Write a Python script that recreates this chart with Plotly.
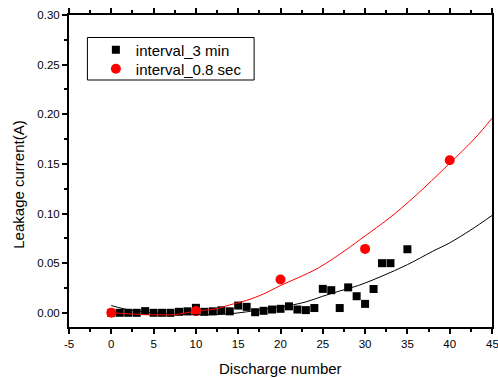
import plotly.graph_objects as go

# ---- data ----
sq_x = [0, 1, 2, 3, 4, 5, 6, 7, 8, 9, 10, 11, 12, 13, 14, 15, 16, 17, 18, 19, 20,
        21, 22, 23, 24, 25, 26, 27, 28, 29, 30, 31, 32, 33, 35]
sq_y = [0.0, 0.0, 0.0, 0.0, 0.0017, 0.0, 0.0, 0.0, 0.001, 0.0015, 0.005, 0.001,
        0.0015, 0.0025, 0.0015, 0.0073, 0.006, 0.0006, 0.002, 0.0033, 0.004,
        0.0065, 0.0033, 0.0027, 0.0048, 0.0241, 0.0228, 0.0048, 0.0256, 0.0167,
        0.009, 0.024, 0.050, 0.050, 0.064]

ci_x = [0, 10, 20, 30, 40]
ci_y = [0.0, 0.0017, 0.0335, 0.0644, 0.1537]

black_fit_x = [0, 1.5, 3, 5, 7.5, 10, 12.5, 14, 16, 18, 21, 23, 25, 27, 29.2,
               32, 35, 38, 40, 42.5, 45]
black_fit_y = [0.0073, 0.004, 0.0018, 0.0, -0.0015, -0.002, -0.0018, -0.001,
               0.001, 0.0035, 0.0073, 0.011, 0.0167, 0.022, 0.0275, 0.037, 0.0485,
               0.062, 0.0705, 0.0835, 0.098]

red_fit_x = [0, 2, 3.7, 5, 7.6, 10, 12.4, 14, 16, 18, 20, 22, 24.5, 27.7, 30,
             32.8, 35.9, 39.8, 43, 45]
red_fit_y = [0.0, -0.001, -0.0017, -0.002, -0.0017, 0.0017, 0.004, 0.008, 0.0125,
             0.019, 0.0275, 0.035, 0.0453, 0.0632, 0.0775, 0.095, 0.1175, 0.149,
             0.176, 0.196]

x_ticks = [-5, 0, 5, 10, 15, 20, 25, 30, 35, 40, 45]
x_tick_labels = ["-5", "0", "5", "10", "15", "20", "25", "30", "35", "40", ""]
edge_label = "45"  # drawn separately so it is clipped at the page edge like the reference

series_names = ["interval_3 min", "interval_0.8 sec"]
x_title = "Discharge number"
y_title = "Leakage current(A)"

X_RANGE = [-5, 45]
Y_RANGE = [-0.0143, 0.30]

FONT = "Liberation Sans, Arial, sans-serif"

fig = go.Figure()
fig.add_trace(go.Scatter(x=sq_x, y=sq_y, mode="markers", name=series_names[0],
                         legend="legend",
                         marker=dict(symbol="square", size=8, color="black")))
fig.add_trace(go.Scatter(x=ci_x, y=ci_y, mode="markers", name=series_names[1],
                         legend="legend2",
                         marker=dict(symbol="circle", size=10, color="#FF0000")))
fig.add_trace(go.Scatter(x=black_fit_x, y=black_fit_y, mode="lines", showlegend=False,
                         line=dict(color="black", width=1, shape="spline", smoothing=1)))
fig.add_trace(go.Scatter(x=red_fit_x, y=red_fit_y, mode="lines", showlegend=False,
                         line=dict(color="#FF0000", width=1, shape="spline", smoothing=1)))

leg_common = dict(xanchor="left", yanchor="middle", bgcolor="rgba(0,0,0,0)",
                  borderwidth=0, font=dict(size=15, family=FONT), itemsizing="trace")

fig.update_layout(
    width=498, height=378,
    margin=dict(l=69, r=4, t=15, b=51),
    paper_bgcolor="white", plot_bgcolor="white",
    font=dict(family=FONT, color="black"),
    legend=dict(x=(96 - 69) / 425, y=(327 - 50) / 312, **leg_common),
    legend2=dict(x=(96 - 69) / 425, y=(327 - 69) / 312, **leg_common),
    shapes=[dict(type="rect", xref="paper", yref="paper",
                 x0=(87.5 - 69) / 425, x1=(255 - 69) / 425,
                 y0=(327 - 80) / 312, y1=(327 - 37.5) / 312,
                 line=dict(color="black", width=1), fillcolor="rgba(0,0,0,0)")],
    annotations=[
        dict(text=x_title, xref="paper", yref="paper", x=(281 - 69) / 425,
             y=(327 - 368) / 312, xanchor="center", yanchor="middle",
             showarrow=False, font=dict(size=15, family=FONT)),
        dict(text=y_title, xref="paper", yref="paper", x=(18 - 69) / 425,
             y=(327 - 184.5) / 312, xanchor="center", yanchor="middle",
             textangle=-90, showarrow=False, font=dict(size=15, family=FONT)),
        dict(text=edge_label, xref="paper", yref="paper", x=1,
             y=(327 - 344) / 312, xanchor="center", yanchor="middle",
             showarrow=False, font=dict(size=11.5, family=FONT)),
    ],
)

fig.update_xaxes(range=X_RANGE, tickmode="array", tickvals=x_ticks,
                 ticktext=x_tick_labels, ticks="outside", ticklen=5,
                 tickwidth=2, tickcolor="black", showline=True, linewidth=2,
                 linecolor="black", mirror="ticks", showgrid=False, zeroline=False,
                 tickfont=dict(size=11.5, family=FONT),
                 minor=dict(ticks="outside", ticklen=3, dtick=2.5, tick0=0,
                            tickcolor="black", tickwidth=2))
fig.update_yaxes(range=Y_RANGE, tick0=0, dtick=0.05, tickformat=".2f", ticks="outside",
                 ticklen=5, tickwidth=2, tickcolor="black", showline=True, linewidth=2,
                 linecolor="black", mirror=True, showgrid=False, zeroline=False,
                 tickfont=dict(size=11.5, family=FONT),
                 minor=dict(ticks="outside", ticklen=3, dtick=0.025, tick0=0,
                            tickcolor="black", tickwidth=2))

fig.write_html("out.html")
